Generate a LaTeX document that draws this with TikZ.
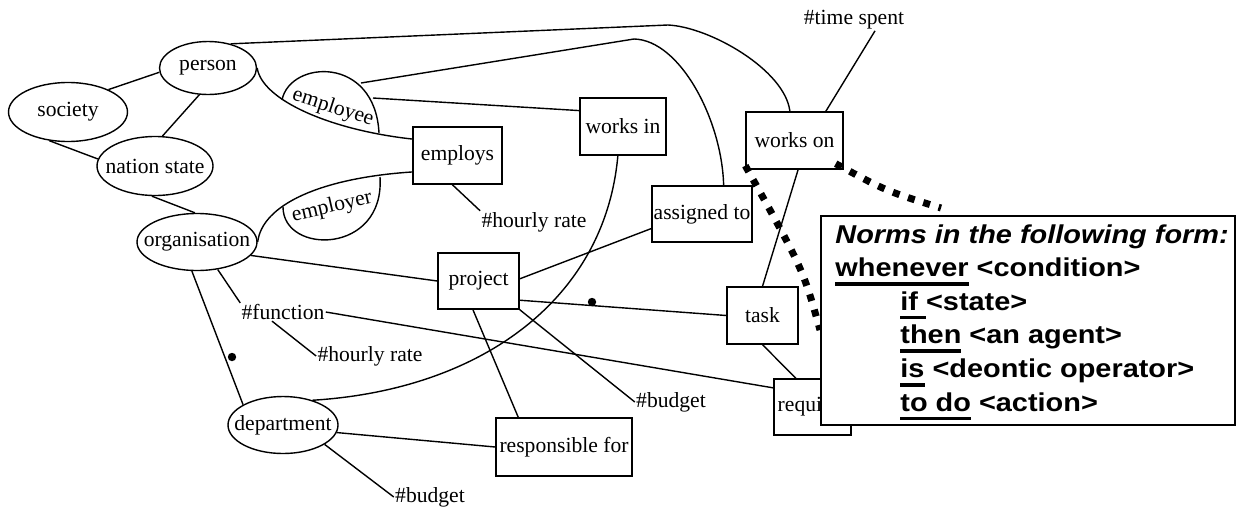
\documentclass[tikz,border=0pt]{standalone}
\usepackage{fontspec}
\setmainfont{Liberation Serif}
\newfontfamily\normsfont[FakeStretch=1.12]{Liberation Sans}
\usetikzlibrary{shapes.geometric,calc}
\newcommand\myul[1]{\setbox0\hbox{#1}\rlap{\rule[-4.6pt]{\wd0}{1.8pt}}\box0\relax}
\newcommand\zw[1]{\makebox[0pt]{#1}}
\begin{document}
\begin{tikzpicture}[x=0.5pt,y=-0.5pt,
  every node/.style={font=\fontsize{10.8}{13}\selectfont},
  ent/.style={ellipse,draw,line width=0.7pt,inner sep=0pt},
  rel/.style={rectangle,draw,line width=0.7pt,inner sep=0pt},
  attr/.style={inner sep=0.5pt},
  conn/.style={line width=0.7pt},
  normdots/.style={line width=3.5pt,dash pattern=on 3.5pt off 4.5pt},
  dotmark/.style={circle,fill,inner sep=0pt,minimum size=4.2pt},
  normtext/.style={anchor=base west,inner sep=0pt,font=\normsfont\bfseries\fontsize{12.9}{16}\selectfont}]
\useasboundingbox (0,0) rectangle (1245,509);
% entities
\node[ent,minimum width=48.5pt,minimum height=26.5pt] (person) at (208,68) {\zw{person}};
\node[ent,minimum width=59.5pt,minimum height=29.5pt] (society) at (68,112) {\zw{society}};
\node[ent,minimum width=58pt,minimum height=29.5pt] (nation) at (155,166) {\zw{nation state}};
\node[ent,minimum width=60pt,minimum height=28.5pt] (organisation) at (197,242) {\zw{organisation}};
\node[ent,minimum width=55pt,minimum height=28.5pt] (department) at (283,425) {\zw{department}};
% relations
\node[rel,minimum width=44.5pt,minimum height=28.5pt] (employs) at (457.5,155.5) {employs};
\node[rel,minimum width=43pt,minimum height=28.5pt] (worksin) at (623,126.5) {works in};
\node[rel,minimum width=48.5pt,minimum height=28.5pt] (workson) at (794.5,140.5) {works on};
\node[rel,minimum width=50pt,minimum height=28pt] (assigned) at (702,214) {assigned to};
\node[rel,minimum width=40.5pt,minimum height=28pt] (project) at (478.5,281) {project};
\node[rel,minimum width=35.5pt,minimum height=28.5pt] (task) at (762.5,315.5) {task};
\node[rel,minimum width=38.5pt,minimum height=28pt] (requi) at (812.5,407) {requires};
\node[rel,minimum width=68pt,minimum height=29pt] (resp) at (564,447) {responsible for};
% attributes
\node[attr] (timespent) at (854,20) {\#time spent};
\node[attr] (hourlyA) at (534,222) {\#hourly rate};
\node[attr] (function) at (283,312) {\#function};
\node[attr] (hourlyB) at (370,356) {\#hourly rate};
\node[attr] (budgetA) at (671,402) {\#budget};
\node[attr] (budgetB) at (430,497) {\#budget};
% roles
\node[rotate=-18,inner sep=0pt] (eetext) at (333,108) {employee};
\node[rotate=13,inner sep=0pt] (ertext) at (332,207) {employer};
\draw[conn] (282,100) .. controls (290,60) and (375,55) .. (379,133);
\draw[conn] (283,207) .. controls (283,255) and (385,255) .. (380,177);
\coordinate (ee1) at (361,83);
\coordinate (ee2) at (373,98);
% connectors
\draw[conn] (society.29) -- (person.185);
\draw[conn] (person.-108) -- (nation.76);
\draw[conn] (society.237) -- (nation.173);
\draw[conn] (nation.264) -- (organisation.94);
\draw[conn] (person.east) .. controls (262,100) and (330,130) .. (employs.160);
\draw[conn] (organisation.east) .. controls (262,205) and (320,178) .. (employs.200);
\draw[conn] (person.47) -- (668,25) .. controls (710,27) and (785,70) .. (workson.99);
\draw[conn] (ee1) -- (634,39) .. controls (680,40) and (722,120) .. (assigned.53);
\draw[conn] (ee2) -- (worksin.160);
\draw[conn] (employs.-100) -- (hourlyA.north west);
\draw[conn] (workson.43) -- ([xshift=10.5pt]timespent.south);
\draw[conn] (worksin.-100) .. controls (605,300) and (480,390) .. (department.40);
\draw[conn] (assigned.196) -- (project.3);
\draw[conn] (organisation.-14) -- (project.west);
\draw[conn] (organisation.-53) -- (function.north west);
\draw[conn] (organisation.-100) -- (department.153);
\draw[conn] (function.east) -- (requi.154);
\draw[conn] ([xshift=-5.5pt]function.south) -- (hourlyB.west);
\draw[conn] (project.-25) -- (task.west);
\draw[conn] (project.-101) -- (resp.147);
\draw[conn] (project.south east) -- (budgetA.west);
\draw[conn] (department.-8) -- (resp.west);
\draw[conn] (department.-25) -- (budgetB.west);
\draw[conn] (task.north) -- (workson.-83);
\draw[conn] (task.south) -- (requi.120);
\node[dotmark] (dotA) at (232,357) {};
\node[dotmark] (dotB) at (592,302) {};
% dotted pointers to the norms box
\coordinate (d1end) at (820,330);
\coordinate (d2end) at (941,208);
\draw[normdots] ([yshift=2pt]workson.south west) .. controls (803,269) .. (d1end);
\draw[normdots] ([xshift=-4pt,yshift=3pt]workson.south east) .. controls (886,191) .. (d2end);
% norms box
\node[draw,fill=white,line width=0.7pt,minimum width=207pt,minimum height=104.5pt,inner sep=0pt] (norms) at (1028,320.5) {};
\node[normtext] (n1) at (835,243) {\itshape Norms in the following form:};
\node[normtext] (n2) at (835,276.6) {\myul{whenever} <condition>};
\node[normtext] (n3) at (900,310.2) {\myul{if\ }<state>};
\node[normtext] (n4) at (900,343.8) {\myul{then} <an agent>};
\node[normtext] (n5) at (900,377.4) {\myul{is} <deontic operator>};
\node[normtext] (n6) at (900,411) {\myul{to do} <action>};
\end{tikzpicture}
\end{document}
